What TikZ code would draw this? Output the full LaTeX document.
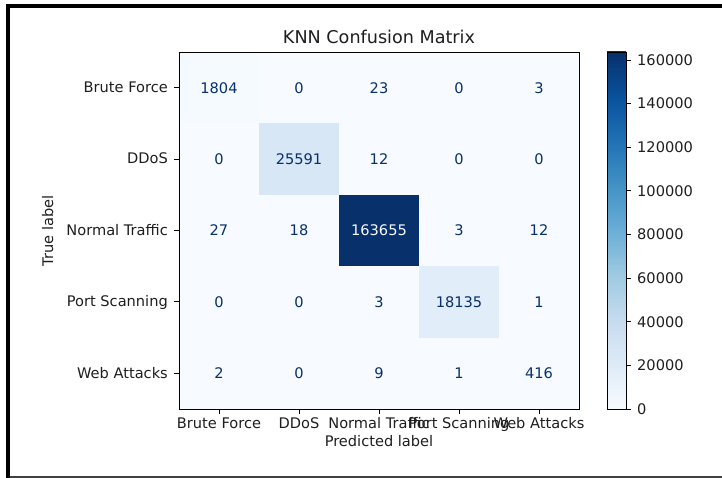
\documentclass[tikz,border=0pt]{standalone}
\usepackage{fontspec}
\setmainfont{DejaVu Sans}

% Blues colour map stops
\definecolor{bl0}{RGB}{247,251,255}
\definecolor{bl1}{RGB}{222,235,247}
\definecolor{bl2}{RGB}{198,219,239}
\definecolor{bl3}{RGB}{158,202,225}
\definecolor{bl4}{RGB}{107,174,214}
\definecolor{bl5}{RGB}{66,146,198}
\definecolor{bl6}{RGB}{33,113,181}
\definecolor{bl7}{RGB}{8,81,156}
\definecolor{bl8}{RGB}{8,48,107}
% cell shades taken from the map
\definecolor{cA}{RGB}{245,250,254}
\definecolor{cB}{RGB}{216,231,245}
\definecolor{cC}{RGB}{225,237,248}
\definecolor{labelgray}{RGB}{30,30,30}

% the path box is mapped onto 25bp..75bp of the shading
\pgfdeclareverticalshading{bluesmap}{100bp}{%
  color(0bp)=(bl0); color(25bp)=(bl0); color(31.25bp)=(bl1);
  color(37.5bp)=(bl2); color(43.75bp)=(bl3); color(50bp)=(bl4);
  color(56.25bp)=(bl5); color(62.5bp)=(bl6); color(68.75bp)=(bl7);
  color(75bp)=(bl8); color(100bp)=(bl8)}

\tikzset{
  cellbox/.style={minimum width=80pt, minimum height=71.4pt, inner sep=0pt,
    outer sep=0pt, anchor=center},
  spine/.style={draw=black, line width=0.9pt},
  tickline/.style={draw=black, line width=0.9pt},
  ticklabel/.style={inner sep=0pt, text=labelgray},
  axislabel/.style={inner sep=0pt, text=labelgray},
  titlelabel/.style={inner sep=0pt, text=labelgray, font=\fontsize{17.6}{20}\selectfont},
  colorbar/.style={shading=bluesmap, draw=black, line width=0.9pt,
    minimum width=19pt, minimum height=357pt, inner sep=0pt, outer sep=0pt},
}

\begin{document}
\begin{tikzpicture}[x=1pt, y=-1pt, font=\fontsize{14.6}{17}\selectfont]
\useasboundingbox (0,0) rectangle (722,478);

% outer frame
\fill[black] (6,4) rectangle (722,8);
\fill[black] (6,4) rectangle (10,478);
\fill[black!75] (10,475.5) rectangle (722,478);

% matrix background and cells
\fill[bl0] (179,52) rectangle (579,409);
\foreach \row [count=\i] in {
  {1804/cA/bl8, 0/bl0/bl8, 23/bl0/bl8, 0/bl0/bl8, 3/bl0/bl8},
  {0/bl0/bl8, 25591/cB/bl8, 12/bl0/bl8, 0/bl0/bl8, 0/bl0/bl8},
  {27/bl0/bl8, 18/bl0/bl8, 163655/bl8/bl0, 3/bl0/bl8, 12/bl0/bl8},
  {0/bl0/bl8, 0/bl0/bl8, 3/bl0/bl8, 18135/cC/bl8, 1/bl0/bl8},
  {2/bl0/bl8, 0/bl0/bl8, 9/bl0/bl8, 1/bl0/bl8, 416/bl0/bl8}} {
  \foreach \v/\fc/\tc [count=\j] in \row {
    \node[cellbox, fill=\fc, text=\tc] (cell-\i-\j)
      at ({219+80*(\j-1)}, {87.7+71.4*(\i-1)}) {\v};
  }
}

% axes box
\draw[spine] (179,52) rectangle (579,409);

% ticks and class names
\foreach \lab [count=\i] in {Brute Force, DDoS, Normal Traffic, Port Scanning, Web Attacks} {
  \pgfmathsetmacro\yc{87.7+71.4*(\i-1)}
  \pgfmathsetmacro\xc{219+80*(\i-1)}
  \draw[tickline] (174,\yc) -- (179,\yc);
  \node[ticklabel, anchor=base east] (ylab-\i) at (168,\yc+4.8) {\lab};
  \draw[tickline] (\xc,409) -- (\xc,414);
  \node[ticklabel, anchor=base] (xlab-\i) at (\xc,428.5) {\lab};
}

% axis titles
\node[titlelabel, anchor=base] (title) at (379,43.3) {KNN Confusion Matrix};
\node[axislabel, anchor=base] (xtitle) at (379,446.5) {Predicted label};
\node[axislabel, anchor=base, rotate=90] (ytitle) at (53,231) {True label};

% colour bar
\node[colorbar] (cbar) at (616.5,230.5) {};
\foreach \k/\lab in {0/0, 1/20000, 2/40000, 3/60000, 4/80000, 5/100000, 6/120000, 7/140000, 8/160000} {
  \pgfmathsetmacro\yy{409-43.628*\k}
  \draw[tickline] (626,\yy) -- (631,\yy);
  \node[ticklabel, anchor=west] (cbl-\k) at (637,\yy) {\lab};
}
\end{tikzpicture}
\end{document}
